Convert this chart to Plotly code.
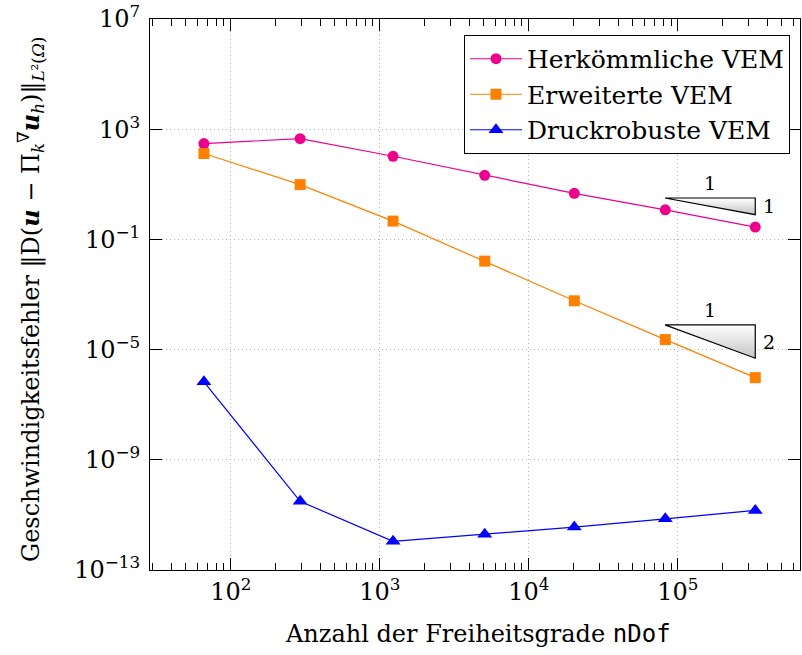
import math
import plotly.graph_objects as go

# ---- data ----
ndof = [66, 292, 1227, 5060, 20200, 82400, 331000]
err_standard = [302, 452, 104, 21.2, 4.71, 1.18, 0.28]
err_enhanced = [131, 9.75, 0.462, 0.01626, 5.9e-4, 2.31e-5, 9.6e-7]
err_robust = [6.8e-7, 3.1e-11, 1.1e-12, 2.0e-12, 3.6e-12, 7.2e-12, 1.45e-11]

names = ["Herkömmliche VEM", "Erweiterte VEM", "Druckrobuste VEM"]

# slope triangles: (x start, x end, y at top, rate)
slope_x0 = 82000
slope_x1 = 331000
slope_top = [3.18, 7.9e-5]
slope_rate = [1, 2]

x_tickvals = [1e2, 1e3, 1e4, 1e5]
x_ticktext = ["10<sup>2</sup>", "10<sup>3</sup>", "10<sup>4</sup>", "10<sup>5</sup>"]
y_tickvals = [1e-13, 1e-9, 1e-5, 1e-1, 1e3, 1e7]
y_ticktext = ["10<sup>−13</sup>", "10<sup>−9</sup>", "10<sup>−5</sup>",
              "10<sup>−1</sup>", "10<sup>3</sup>", "10<sup>7</sup>"]

FONT = "DejaVu Serif"
MAGENTA = "#EC008C"
ORANGE = "#FF8000"
BLUE = "#0000FF"

fig = go.Figure()

# slope triangles (drawn first, below data)
annotations = []
for top, rate in zip(slope_top, slope_rate):
    bottom = top * (slope_x0 / slope_x1) ** rate
    fig.add_trace(go.Scatter(
        x=[slope_x0, slope_x1, slope_x1, slope_x0],
        y=[top, top, bottom, top],
        mode="lines", fill="toself",
        fillgradient=dict(type="vertical",
                          colorscale=[[0, "#c4c4c4"], [1, "#ffffff"]]),
        line=dict(color="black", width=1.2),
        showlegend=False, hoverinfo="skip"))
    xm = (math.log10(slope_x0) + math.log10(slope_x1)) / 2
    annotations.append(dict(
        x=xm, y=math.log10(top), xref="x", yref="y", text="1",
        showarrow=False, yanchor="bottom", yshift=2,
        font=dict(family=FONT, size=19, color="black")))
    annotations.append(dict(
        x=math.log10(slope_x1), y=(math.log10(top) + math.log10(bottom)) / 2,
        xref="x", yref="y", text=str(rate),
        showarrow=False, xanchor="left", xshift=6,
        font=dict(family=FONT, size=19, color="black")))

fig.add_trace(go.Scatter(
    x=ndof, y=err_standard, name=names[0], mode="lines+markers",
    line=dict(color=MAGENTA, width=1.2),
    marker=dict(symbol="circle", size=11, color=MAGENTA)))
fig.add_trace(go.Scatter(
    x=ndof, y=err_enhanced, name=names[1], mode="lines+markers",
    line=dict(color=ORANGE, width=1.2),
    marker=dict(symbol="square", size=11, color=ORANGE)))
fig.add_trace(go.Scatter(
    x=ndof, y=err_robust, name=names[2], mode="lines+markers",
    line=dict(color=BLUE, width=1.2),
    marker=dict(symbol="triangle-up", size=13, color=BLUE)))

# minor x ticks 2..9 per decade
minor_x = [m * 10 ** d for d in range(1, 6) for m in range(2, 10)]

annotations.append(dict(
    x=0.5046, y=-0.116, xref="paper", yref="paper",
    text="Anzahl der Freiheitsgrade <span style=\"font-family:'DejaVu Sans Mono'\">nDof</span>",
    showarrow=False, xanchor="center", yanchor="middle",
    font=dict(family=FONT, size=24, color="black")))
annotations.append(dict(
    x=-0.1846, y=0.49, xref="paper", yref="paper", textangle=-90,
    text=("Geschwindigkeitsfehler ‖D(<b><i>u</i></b> − Π<sub><i>k</i></sub><sup>∇</sup>"
          "<b><i>u</i></b><sub><i>h</i></sub>)‖<sub><i>L</i>²(<i>Ω</i>)</sub>"),
    showarrow=False, xanchor="center", yanchor="middle",
    font=dict(family=FONT, size=24, color="black")))

axis_common = dict(
    type="log", showline=True, linecolor="black", linewidth=1,
    mirror="ticks", ticks="inside", ticklen=12, tickwidth=1, tickcolor="black",
    showgrid=True, gridcolor="#b4b4b4", griddash="1px,3px", gridwidth=1,
    zeroline=False, tickfont=dict(family=FONT, size=24, color="black"))

fig.update_layout(
    width=802, height=655,
    margin=dict(l=150, r=2, t=19, b=85),
    paper_bgcolor="white", plot_bgcolor="white",
    font=dict(family=FONT, color="black"),
    xaxis=dict(range=[1.4577, 5.820], tickvals=x_tickvals, ticktext=x_ticktext,
               minor=dict(tickvals=minor_x, ticks="inside", ticklen=7,
                          tickcolor="black", showgrid=False),
               **axis_common),
    yaxis=dict(range=[-13, 7], tickvals=y_tickvals, ticktext=y_ticktext,
               ticklabelstandoff=4, **axis_common),
    legend=dict(x=0.9846, xanchor="right", y=0.971, yanchor="top",
                bordercolor="black", borderwidth=1, bgcolor="white",
                font=dict(family=FONT, size=25, color="black"),
                itemwidth=52, tracegroupgap=0),
    annotations=annotations,
    showlegend=True,
)

fig.write_html("out.html")
